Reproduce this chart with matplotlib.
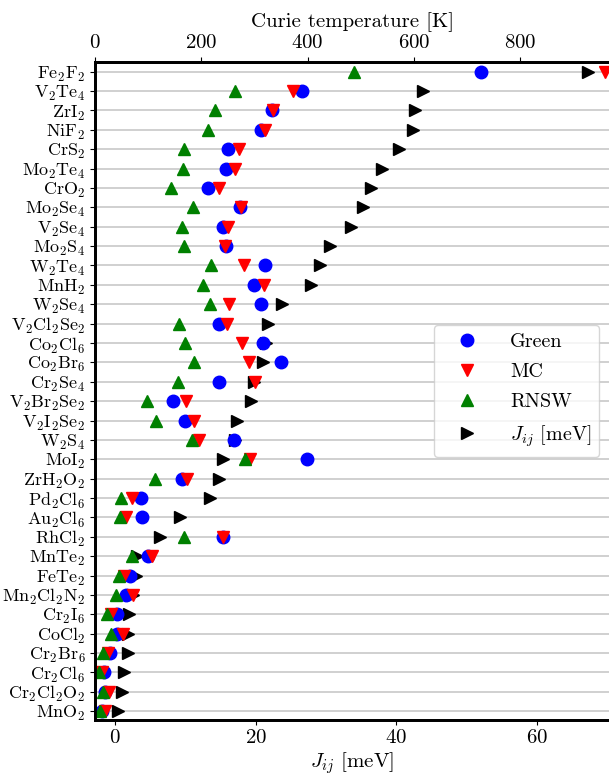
import matplotlib
matplotlib.use("Agg")
import matplotlib.pyplot as plt

plt.rcParams['font.family'] = 'serif'
plt.rcParams['font.serif'] = ['cmr10']
plt.rcParams['mathtext.fontset'] = 'cm'
plt.rcParams['axes.formatter.use_mathtext'] = True

# materials, top to bottom
materials = [r'Fe$_2$F$_2$', r'V$_2$Te$_4$', r'ZrI$_2$', r'NiF$_2$', r'CrS$_2$',
             r'Mo$_2$Te$_4$', r'CrO$_2$', r'Mo$_2$Se$_4$', r'V$_2$Se$_4$', r'Mo$_2$S$_4$',
             r'W$_2$Te$_4$', r'MnH$_2$', r'W$_2$Se$_4$', r'V$_2$Cl$_2$Se$_2$', r'Co$_2$Cl$_6$',
             r'Co$_2$Br$_6$', r'Cr$_2$Se$_4$', r'V$_2$Br$_2$Se$_2$', r'V$_2$I$_2$Se$_2$', r'W$_2$S$_4$',
             r'MoI$_2$', r'ZrH$_2$O$_2$', r'Pd$_2$Cl$_6$', r'Au$_2$Cl$_6$', r'RhCl$_2$',
             r'MnTe$_2$', r'FeTe$_2$', r'Mn$_2$Cl$_2$N$_2$', r'Cr$_2$I$_6$', r'CoCl$_2$',
             r'Cr$_2$Br$_6$', r'Cr$_2$Cl$_6$', r'Cr$_2$Cl$_2$O$_2$', r'MnO$_2$']

# Curie temperatures [K]
t_green = [727, 389, 333, 312, 251, 246, 213, 273, 241, 246,
           319, 300, 312, 233, 317, 350, 233, 146, 169, 261,
           398, 164, 87, 89, 240, 99, 65, 58, 42, 42,
           28, 16, 18, 14]
t_mc = [960, 372, 334, 320, 271, 263, 234, 274, 250, 245,
        280, 318, 253, 248, 277, 290, 301, 171, 186, 196,
        292, 173, 69, 59, 241, 108, 54, 72, 31, 53,
        24, 14, 26, 18]
t_rnsw = [487, 263, 225, 212, 168, 166, 143, 184, 164, 167,
          219, 203, 216, 158, 170, 186, 157, 98, 114, 183,
          282, 112, 48, 47, 167, 69, 45, 40, 22, 30,
          15, 8, 15, 9]
# exchange J_ij [meV]
j_ij = [67.3, 43.8, 42.7, 42.3, 40.4, 38.0, 36.4, 35.2, 33.5, 30.5,
        29.1, 27.8, 23.8, 21.7, 21.4, 21.0, 19.7, 19.3, 17.3, 17.1,
        15.4, 14.8, 13.5, 9.2, 6.45, 3.2, 3.0, 2.5, 1.94, 1.9,
        1.85, 1.33, 0.95, 0.47]

ypos = list(range(len(materials)))

fig = plt.figure(figsize=(6.09, 7.76), dpi=100)
ax = fig.add_axes([0.156, 0.0728, 0.8448, 0.8473])
ax2 = ax.twiny()

ax.grid(axis='y', color='#c8c8c8', lw=1.2)
ax.set_axisbelow(True)

h4, = ax.plot(j_ij, ypos, '>', color='black', ms=9, ls='none', label=r'$J_{ij}$ [meV]')
h1, = ax2.plot(t_green, ypos, 'o', color='blue', ms=9, ls='none', label='Green')
h2, = ax2.plot(t_mc, ypos, 'v', color='red', ms=9, ls='none', label='MC')
h3, = ax2.plot(t_rnsw, ypos, '^', color='green', ms=9, ls='none', label='RNSW')

ax.set_xlim(-2.84, 70.3)
ax2.set_xlim(0, 968)
ax.set_ylim(33.43, -0.5)
ax.set_yticks(ypos)
ax.set_yticklabels(materials, fontsize=13)
ax.set_xticks([0, 20, 40, 60])
ax2.set_xticks([0, 200, 400, 600, 800])
ax.tick_params(axis='x', labelsize=15)
ax2.tick_params(axis='x', labelsize=15)
ax.set_xlabel(r'$J_{ij}$ [meV]', fontsize=15, labelpad=2)
ax2.set_xlabel('Curie temperature [K]', fontsize=15, labelpad=5)

for a in (ax, ax2):
    for s in a.spines.values():
        s.set_linewidth(2)
    a.spines['right'].set_visible(False)

ax2.legend([h1, h2, h3, h4], ['Green', 'MC', 'RNSW', r'$J_{ij}$ [meV]'],
           loc='center right', fontsize=14.5, numpoints=1,
           handlelength=2.5, handletextpad=0.9, labelspacing=0.6)

fig.savefig('out.png', dpi=100)
